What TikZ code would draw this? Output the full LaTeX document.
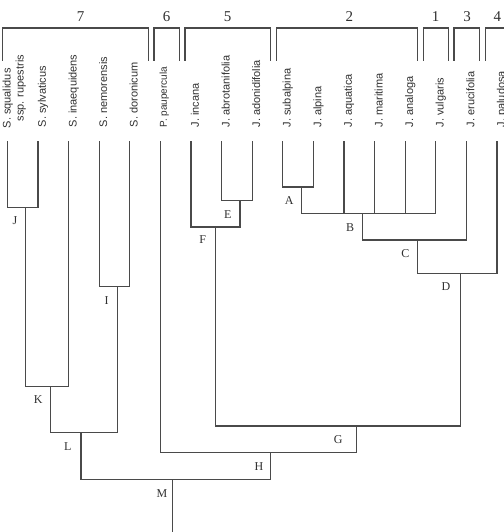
\documentclass[tikz,border=0pt]{standalone}
\usepackage{fontspec}
\setmainfont{Liberation Serif}
\newfontfamily\fajfont{Liberation Sans}
\usetikzlibrary{calc}
\definecolor{vonal}{HTML}{4A4A4A}
\definecolor{iras}{HTML}{303030}
\tikzset{
  ag/.style={draw=vonal,line width=1.2pt},
  zar/.style={draw=vonal,line width=1.2pt},
  faj/.style={rotate=90,anchor=base west,inner sep=0pt,text=iras,
    font=\fajfont\fontsize{11}{13}\selectfont},
  betu/.style={anchor=base,inner sep=0pt,text=iras,font=\fontsize{12}{14}\selectfont},
  szam/.style={anchor=base,inner sep=0pt,text=iras,font=\fontsize{15}{17}\selectfont},
}

\begin{document}
\begin{tikzpicture}[x=1pt,y=-1pt]
  \useasboundingbox (0,0) rectangle (503,532);
  % csoportok felul
  \foreach \a/\b/\n/\m in {2.3/148.3/7/80.7, 154/179.3/6/166.7, 185/270.7/5/227.7,
      276.7/417.7/2/349.3, 423.7/448.7/1/435.7, 454/479.3/3/467, 485.3/520/4/497.3}{
    \draw[zar] (\a,61) |- (\b,28) -- (\b,61);
    \node[szam] (cs\n) at (\m,21.7) {\n};
  }
  % levelek
  \foreach \i in {0,...,16}
    \coordinate (l\i) at ({7.3+30.6*\i},141);
  \node[faj] (f0) at (10.5,128.5) {S. squalidus};
  \node[faj] (f0b) at (23.5,121.5) {ssp. rupestris};
  \foreach \i/\t in {1/S. sylvaticus, 2/S. inaequidens, 3/S. nemorensis,
      4/S. doronicum, 6/J. incana, 7/J. abrotanifolia, 8/J. adonidifolia,
      9/J. subalpina, 10/J. alpina, 11/J. aquatica, 12/J. maritima,
      13/J. analoga, 14/J. vulgaris, 15/J. erucifolia, 16/J. paludosa}
    \node[faj] (f\i) at ($(l\i)+(8,-13.5)$) {\t};
  \node[faj,font=\fajfont\fontsize{10}{12}\selectfont] (f5) at ($(l5)+(6.5,-13.5)$) {P. paupercula};
  % elagazasok
  \coordinate (J) at (25.7,207.3);
  \coordinate (I) at (117.3,286.3);
  \coordinate (E) at (240,200.7);
  \coordinate (F) at (215.7,227);
  \coordinate (A) at (301.3,187);
  \coordinate (B) at (362.7,213.3);
  \coordinate (C) at (417.7,240);
  \coordinate (D) at (460.3,273.3);
  \coordinate (K) at (50.3,386.3);
  \coordinate (L) at (81,432.7);
  \coordinate (G) at (356.3,426);
  \coordinate (H) at (270.3,452.7);
  \coordinate (M) at (172.7,479.3);
  \coordinate (gyoker) at (172.7,536);
  \draw[ag] (l0) |- (J) -| (l1);
  \draw[ag] (J) |- (K) -| (l2);
  \draw[ag] (l3) |- (I) -| (l4);
  \draw[ag] (K) |- (L) -| (I);
  \draw[ag] (l7) |- (E) -| (l8);
  \draw[ag] (l6) |- (F) -| (E);
  \draw[ag] (l9) |- (A) -| (l10);
  \draw[ag] (A) |- (B) -| (l14);
  \foreach \i in {11,12,13}
    \draw[ag] (l\i) -- (l\i |- B);
  \draw[ag] (B) |- (C) -| (l15);
  \draw[ag] (C) |- (D) -| (l16);
  \draw[ag] (F) |- (G) -| (D);
  \draw[ag] (l5) |- (H) -| (G);
  \draw[ag] (L) |- (M) -| (H);
  \draw[ag] (M) -- (gyoker);
  % betuk
  \foreach \n/\x/\y in {J/15/220, I/106.7/300, E/227.7/214, F/202.7/239.3,
      A/289.3/200.7, B/350/227.3, C/405.3/253.3, D/446/286, K/38.3/399.3,
      L/67.7/446, G/338.3/439.3, H/259/466, M/162/493.3}
    \node[betu] (b\n) at (\x,\y+4) {\n};
\end{tikzpicture}
\end{document}
